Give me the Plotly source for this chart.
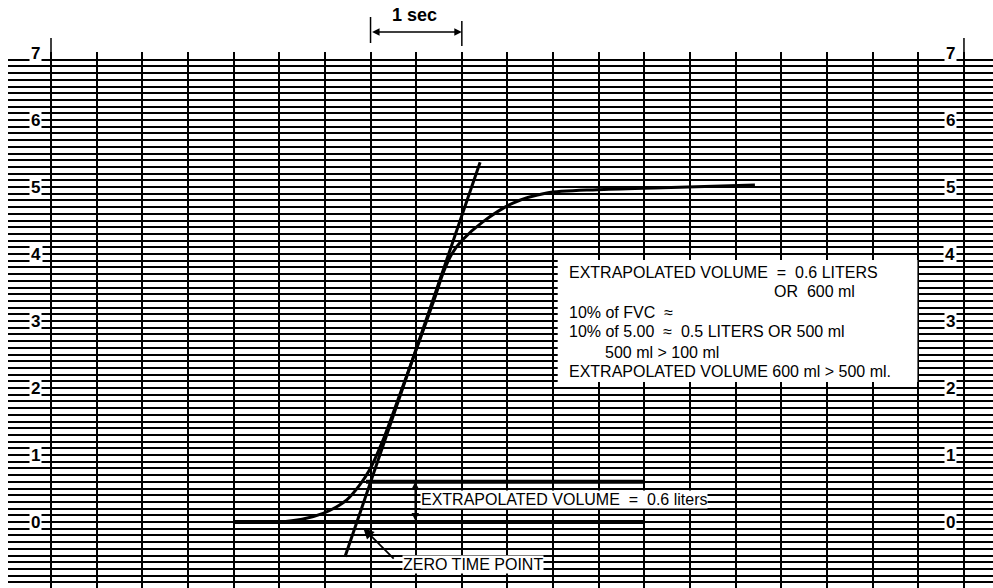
import plotly.graph_objects as go

# ---- data ----
time_s = [2.00, 2.50, 2.75, 2.98, 3.12, 3.24, 3.38, 3.49, 3.63, 3.82, 4.04,
          4.21, 4.29, 4.39, 4.50, 4.73, 5.06, 5.43, 5.98, 6.70, 7.71]
volume_l = [0.00, 0.00, 0.04, 0.13, 0.22, 0.33, 0.55, 0.78, 1.20, 1.90, 2.72,
            3.37, 3.70, 4.00, 4.20, 4.48, 4.76, 4.91, 4.96, 4.99, 5.03]

tangent_t = [3.22, 4.70]
tangent_v = [-0.52, 5.37]

baseline_t = [2.00, 6.50]
baseline_v = [0.0, 0.0]
extrap_t = [3.45, 6.50]
extrap_v = [0.6, 0.6]

y_tick_vals = [0, 1, 2, 3, 4, 5, 6, 7]
y_tick_text = ["0", "1", "2", "3", "4", "5", "6", "7"]

box_lines = [
    "EXTRAPOLATED VOLUME  =  0.6 LITERS",
    "OR  600 ml",
    "10% of FVC  \u2248",
    "10% of 5.00  \u2248  0.5 LITERS OR 500 ml",
    "500 ml > 100 ml",
    "EXTRAPOLATED VOLUME 600 ml > 500 ml.",
]

FONT = "Liberation Sans, Arial, Helvetica, sans-serif"
W, H = 993, 588
ML, MR, MT, MB = 8, 0, 52, 0
X_RANGE = [-0.471, 10.318]
Y_RANGE = [-0.985, 7.015]

def paper_y(py):
    return (H - MB - py) / (H - MT - MB)

fig = go.Figure()

line_style = dict(color="black", width=4)
fig.add_trace(go.Scatter(x=baseline_t, y=baseline_v, mode="lines", line=line_style, hoverinfo="skip"))
fig.add_trace(go.Scatter(x=extrap_t, y=extrap_v, mode="lines", line=line_style, hoverinfo="skip"))
fig.add_trace(go.Scatter(x=tangent_t, y=tangent_v, mode="lines",
                         line=dict(color="black", width=3), hoverinfo="skip"))
fig.add_trace(go.Scatter(x=time_s, y=volume_l, mode="lines",
                         line=dict(color="black", width=3, shape="spline", smoothing=0.8),
                         hoverinfo="skip"))

shapes = []
# white text box
shapes.append(dict(type="rect", xref="x", yref="y", x0=5.55, x1=9.49, y0=2.09, y1=3.91,
                   fillcolor="white", line=dict(width=0), layer="above"))
# extensions of the outer vertical lines above the grid
for xv in (0, 10):
    shapes.append(dict(type="line", xref="x", yref="paper", x0=xv, x1=xv,
                       y0=0.99, y1=paper_y(38), line=dict(color="black", width=1.5)))
# 1 sec bracket bars
shapes.append(dict(type="line", xref="x", yref="paper", x0=3.5, x1=3.5,
                   y0=paper_y(43), y1=paper_y(17), line=dict(color="black", width=1.5)))
shapes.append(dict(type="line", xref="x", yref="paper", x0=4.5, x1=4.5,
                   y0=paper_y(46), y1=paper_y(21), line=dict(color="black", width=1.5)))

annotations = []
# y labels, both sides
for v, t in zip(y_tick_vals, y_tick_text):
    for xl in (-0.165, 9.847):
        annotations.append(dict(x=xl, y=v, xref="x", yref="y", text="<b>%s</b>" % t,
                                showarrow=False, font=dict(family=FONT, size=17, color="black"),
                                bgcolor="white", borderpad=1, xanchor="center", yanchor="middle"))

# box text
box_pos = [(5.652, 3.731), (7.897, 3.433), (5.652, 3.134), (5.652, 2.836),
           (6.046, 2.537), (5.652, 2.239)]
for txt, (bx, by) in zip(box_lines, box_pos):
    annotations.append(dict(x=bx, y=by, xref="x", yref="y", text=txt, showarrow=False,
                            font=dict(family=FONT, size=16, color="black"),
                            xanchor="left", yanchor="middle"))

# extrapolated volume label
annotations.append(dict(x=4.04, y=0.33, xref="x", yref="y",
                        text="EXTRAPOLATED VOLUME  =  0.6 liters", showarrow=False,
                        font=dict(family=FONT, size=16, color="black"),
                        bgcolor="white", borderpad=0, xanchor="left", yanchor="middle"))
# double arrow between baseline and 0.6
annotations.append(dict(x=3.99, y=0.6, ax=3.99, ay=0.0, xref="x", yref="y", axref="x", ayref="y",
                        text="", showarrow=True, arrowhead=2, arrowside="end+start",
                        arrowsize=1, arrowwidth=1.5, arrowcolor="black"))
# zero time point
annotations.append(dict(x=3.84, y=-0.64, xref="x", yref="y", text="ZERO TIME POINT",
                        showarrow=False, font=dict(family=FONT, size=16, color="black"),
                        bgcolor="white", borderpad=0, xanchor="left", yanchor="middle"))
annotations.append(dict(x=3.42, y=-0.09, ax=3.77, ay=-0.57, xref="x", yref="y", axref="x", ayref="y",
                        text="", showarrow=True, arrowhead=2, arrowsize=1.2, arrowwidth=1.8,
                        arrowcolor="black"))
# 1 sec
annotations.append(dict(x=4.5, y=paper_y(32), ax=3.5, ay=0, xref="x", yref="paper",
                        axref="x", ayref="pixel", text="", showarrow=True, arrowhead=2,
                        arrowside="end+start", arrowsize=1, arrowwidth=1.5, arrowcolor="black"))
annotations.append(dict(x=3.98, y=paper_y(15), xref="x", yref="paper", text="<b>1 sec</b>",
                        showarrow=False, font=dict(family=FONT, size=18, color="black"),
                        xanchor="center", yanchor="middle"))

fig.update_layout(
    width=W, height=H, margin=dict(l=ML, r=MR, t=MT, b=MB),
    paper_bgcolor="white", plot_bgcolor="white", showlegend=False,
    shapes=shapes, annotations=annotations,
    xaxis=dict(range=X_RANGE, tick0=0, dtick=0.5, showgrid=True, gridcolor="black",
               gridwidth=2, zeroline=False, showticklabels=False, ticks="", showline=False,
               fixedrange=True),
    yaxis=dict(range=Y_RANGE, tick0=0, dtick=0.1, showgrid=True, gridcolor="black",
               gridwidth=2, zeroline=False, showticklabels=False, ticks="", showline=False,
               fixedrange=True),
)

fig.write_html("out.html", config={"displayModeBar": False})
